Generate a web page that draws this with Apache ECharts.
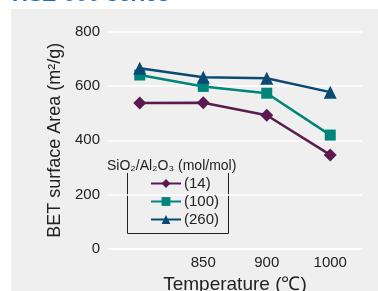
<!DOCTYPE html>
<html><head><meta charset="utf-8">
<script src="https://cdn.jsdelivr.net/npm/echarts@6/dist/echarts.min.js"></script>
<style>
html,body{margin:0;padding:0;background:#fff;}
#bg{position:absolute;left:11px;top:9px;width:367px;height:282px;background:#efefef;}
#c{position:absolute;left:0;top:0;width:378px;height:291px;}
</style></head>
<body><div id="bg"></div><div id="c"></div>
<script>
const categories = ['800', '850', '900', '1000'];
const ratio14 = [537, 538, 492, 346];
const ratio100 = [640, 598, 573, 419];
const ratio260 = [665, 632, 628, 577];
const seriesNames = ['(14)', '(100)', '(260)'];
const yTicks = { min: 0, max: 800, interval: 200 };

const chart = echarts.init(document.getElementById('c'), null, { renderer: 'canvas' });
const font = '"Liberation Sans", Arial, sans-serif';
const colors = ['#5b1a50', '#00857a', '#0b4a72'];
const symbols = ['diamond', 'rect', 'triangle'];
const sizes = [13, 11, 13];
const datas = [ratio14, ratio100, ratio260];

chart.setOption({
  backgroundColor: 'transparent',
  textStyle: { fontFamily: font },
  animation: false,
  grid: { left: 108, right: 16, top: 31.5, bottom: 42, containLabel: false, outerBoundsMode: 'none' },
  xAxis: {
    type: 'category',
    data: categories,
    boundaryGap: true,
    axisLine: { lineStyle: { color: '#fff', width: 1.5 } },
    axisTick: { inside: true, length: 8, alignWithLabel: true, interval: (i) => i > 0, lineStyle: { color: '#fff', width: 1.5 } },
    axisLabel: { interval: (i) => i > 0, color: '#222', fontSize: 15, margin: 6 },
    name: 'Temperature (℃)',
    nameLocation: 'middle',
    nameGap: 26,
    nameTextStyle: { color: '#222', fontSize: 19 }
  },
  yAxis: {
    type: 'value',
    min: yTicks.min, max: yTicks.max, interval: yTicks.interval,
    axisLine: { show: false },
    axisTick: { show: false },
    axisLabel: { color: '#222', fontSize: 15, margin: 8, padding: [4, 0, 0, 0] },
    splitLine: { lineStyle: { color: '#fff', width: 1.5 } },
    name: 'BET surface Area (m²/g)',
    nameLocation: 'middle',
    nameGap: 43,
    nameTextStyle: { color: '#222', fontSize: 18 }
  },
  legend: {
    orient: 'vertical',
    left: 150, top: 176, padding: 0,
    itemWidth: 30, itemHeight: 11, itemGap: 3,
    textStyle: { color: '#222', fontSize: 15, padding: [0, 0, 0, -2] },
    data: seriesNames
  },
  graphic: [
    { type: 'text', left: 12, top: -16, style: { text: 'HSZ-800 series', fill: '#1a6db3', font: 'bold 22px ' + font } },
    { type: 'text', left: 107, top: 159, style: { text: 'SiO₂/Al₂O₃ (mol/mol)', fill: '#222', font: '14px ' + font } },
    { type: 'polyline', shape: { points: [[127.5, 173], [127.5, 233.5], [228.5, 233.5], [228.5, 173]] }, style: { stroke: '#222', lineWidth: 1, fill: null } }
  ],
  series: seriesNames.map((n, i) => ({
    name: n,
    type: 'line',
    data: datas[i],
    symbol: symbols[i],
    symbolSize: sizes[i],
    itemStyle: { color: colors[i] },
    lineStyle: { color: colors[i], width: 2.5 }
  }))
});
</script></body></html>
